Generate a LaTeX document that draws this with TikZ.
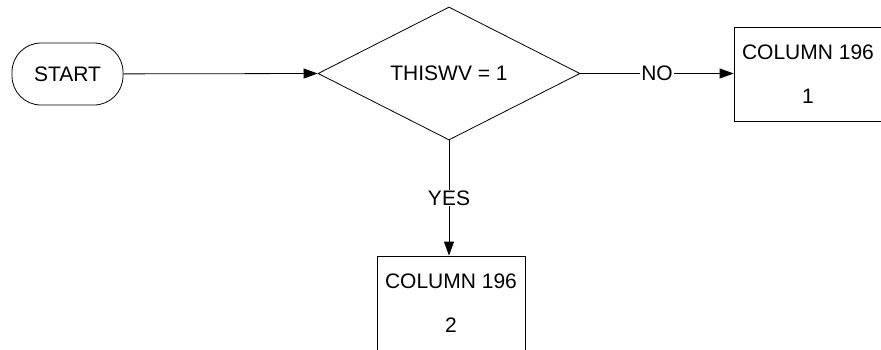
\documentclass[tikz,border=0pt]{standalone}
\usepackage{fontspec}
\setmainfont{Liberation Sans}
\usetikzlibrary{shapes.geometric,arrows.meta}
\begin{document}
\begin{tikzpicture}[x=1pt,y=1pt,
  every node/.style={font=\fontsize{21pt}{44pt}\selectfont, inner sep=0pt},
  terminal/.style={draw, line width=0.8pt, rounded corners=29pt, minimum width=111pt, minimum height=62pt},
  decision/.style={draw, line width=0.8pt, diamond, minimum width=262pt, minimum height=133pt},
  procbox/.style={draw, line width=0.8pt, minimum width=148pt, minimum height=94pt, align=center},
  flow/.style={line width=0.8pt, -{Triangle[length=14pt,width=10pt]}},
  flowlabel/.style={fill=white, inner sep=1pt}
]
\useasboundingbox (0,0) rectangle (881,-349);
\node[terminal] (start) at (67.5,-74) {START};
\node[decision] (dec) at (449,-73.5) {THISWV = 1};
\node[procbox] (no) at (808,-74) {COLUMN 196\\1};
\node[procbox] (yes) at (451,-303) {COLUMN 196\\2};
\draw[flow] (start) -- (dec.west);
\draw[flow] (dec.east) -- node[flowlabel, pos=0.5] {NO} (no.west |- dec.east);
\draw[flow] (dec.south) -- node[flowlabel, pos=0.5] {YES} (yes.north -| dec.south);
\end{tikzpicture}
\end{document}
